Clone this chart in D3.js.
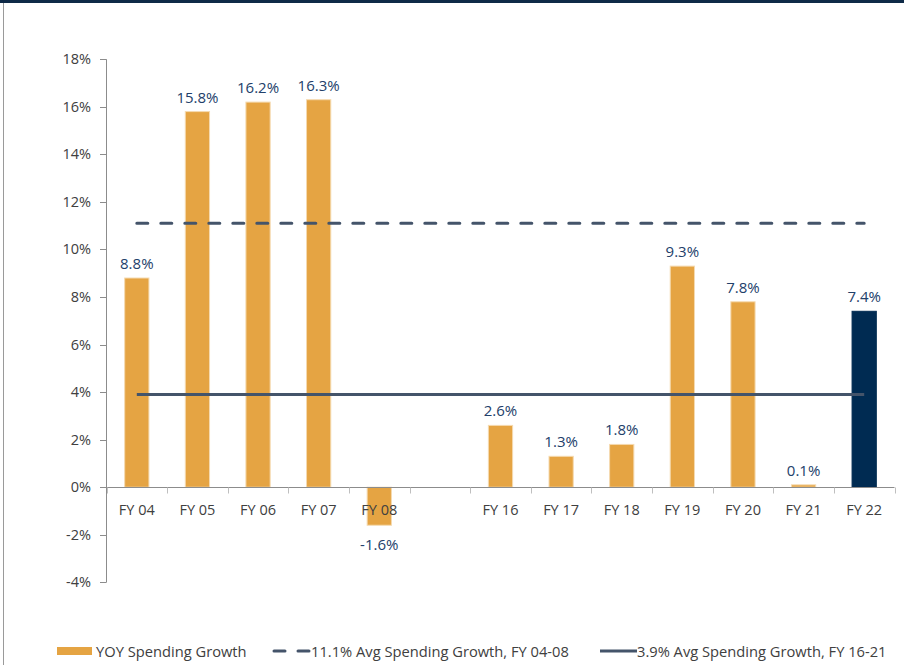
<!DOCTYPE html>
<html>
<head>
<meta charset="utf-8">
<script src="https://cdn.jsdelivr.net/npm/d3@7"></script>
<style>
  body { margin: 0; background: #fff; }
  svg { display: block; font-family: "Open Sans", "Noto Sans", sans-serif; }
</style>
</head>
<body>
<div id="chart"></div>
<script>
// categories (blank slot separates the two periods)
const categories = ['FY 04', 'FY 05', 'FY 06', 'FY 07', 'FY 08', 'gap', 'FY 16', 'FY 17', 'FY 18', 'FY 19', 'FY 20', 'FY 21', 'FY 22'];
const growth = [8.8, 15.8, 16.2, 16.3, -1.6, null, 2.6, 1.3, 1.8, 9.3, 7.8, 0.1, 7.4];
const highlight = ['FY 22'];
const yTicks = [-4, -2, 0, 2, 4, 6, 8, 10, 12, 14, 16, 18];

const avgNames = ['11.1% Avg Spending Growth, FY 04-08', '3.9% Avg Spending Growth, FY 16-21'];
const avgValues = [11.1, 3.9];
const avgSpan = ['FY 04', 'FY 22'];

const barName = 'YOY Spending Growth';

const width = 904, height = 665;
const orange = '#E5A443', navy = '#002B52', slate = '#44546A', labelBlue = '#22406A', textGray = '#404040';

const svg = d3.select('#chart').append('svg')
    .attr('width', width)
    .attr('height', height);

// frame
svg.append('rect').attr('x', 0).attr('y', 0).attr('width', width).attr('height', 3).attr('fill', '#0E2A47');
svg.append('line').attr('x1', 3.5).attr('x2', 3.5).attr('y1', 3).attr('y2', height).attr('stroke', '#9a9a9a');

const x = d3.scaleBand()
    .domain(categories)
    .range([106.5, 894.5])
    .paddingInner(0.6)
    .paddingOuter(0.3);

const y = d3.scaleLinear()
    .domain([-4, 18])
    .range([582.3, 59.3]);

// y axis
const yAxis = svg.append('g');
yAxis.append('line')
    .attr('x1', 106.5).attr('x2', 106.5)
    .attr('y1', y(18)).attr('y2', y(-4))
    .attr('stroke', '#8c8c8c');
yAxis.selectAll('.ytick')
    .data(yTicks)
    .join('line')
    .attr('x1', 100).attr('x2', 106.5)
    .attr('y1', d => Math.round(y(d)) + 0.5).attr('y2', d => Math.round(y(d)) + 0.5)
    .attr('stroke', '#8c8c8c');
yAxis.selectAll('.ylab')
    .data(yTicks)
    .join('text')
    .attr('x', 91)
    .attr('y', d => y(d) + 5)
    .attr('text-anchor', 'end')
    .attr('font-size', 14.5)
    .attr('fill', textGray)
    .text(d => d + '%');

// bars
const step = x.step();
const bars = categories.map((c, i) => ({ c, v: growth[i] })).filter(d => d.v !== null);

svg.selectAll('.bar')
    .data(bars)
    .join('rect')
    .attr('class', 'bar')
    .attr('x', d => x(d.c))
    .attr('width', x.bandwidth())
    .attr('y', d => y(Math.max(0, d.v)))
    .attr('height', d => Math.abs(y(d.v) - y(0)))
    .attr('fill', d => highlight.includes(d.c) ? navy : orange)
    .attr('stroke', d => highlight.includes(d.c) ? navy : '#F5DAB0')
    .attr('stroke-width', 1);

// x axis at 0
const xAxis = svg.append('g');
const x0 = Math.round(y(0)) + 0.5;
xAxis.append('line')
    .attr('x1', 106.5).attr('x2', 894.5)
    .attr('y1', x0).attr('y2', x0)
    .attr('stroke', '#8c8c8c');
xAxis.selectAll('.xtick')
    .data(d3.range(categories.length + 1))
    .join('line')
    .attr('x1', i => Math.round(106.5 + i * step) + 0.5)
    .attr('x2', i => Math.round(106.5 + i * step) + 0.5)
    .attr('y1', x0).attr('y2', x0 + 6)
    .attr('stroke', '#bfbfbf');
xAxis.selectAll('.xlab')
    .data(categories.filter(c => c !== 'gap'))
    .join('text')
    .attr('x', d => x(d) + x.bandwidth() / 2)
    .attr('y', 515)
    .attr('text-anchor', 'middle')
    .attr('font-size', 14.5)
    .attr('fill', textGray)
    .text(d => d);

// value labels
svg.selectAll('.vlab')
    .data(bars)
    .join('text')
    .attr('x', d => x(d.c) + x.bandwidth() / 2)
    .attr('y', d => d.v >= 0 ? y(d.v) - 9 : y(d.v) + 25)
    .attr('text-anchor', 'middle')
    .attr('font-size', 15)
    .attr('fill', labelBlue)
    .text(d => d.v.toFixed(1) + '%');

// average lines
const lx1 = x(avgSpan[0]) + x.bandwidth() / 2;
const lx2 = x(avgSpan[1]) + x.bandwidth() / 2;
avgValues.forEach((v, i) => {
    svg.append('line')
        .attr('x1', lx1).attr('x2', lx2)
        .attr('y1', y(v)).attr('y2', y(v))
        .attr('stroke', slate)
        .attr('stroke-width', 3)
        .attr('stroke-linecap', i === 0 ? 'round' : 'butt')
        .attr('stroke-dasharray', i === 0 ? '11,13' : null);
});

// legend
const legend = svg.append('g').attr('font-size', 14.7).attr('fill', textGray);
legend.append('rect')
    .attr('x', 57).attr('y', 647).attr('width', 35).attr('height', 8)
    .attr('fill', orange);
legend.append('text').attr('x', 96).attr('y', 657).text(barName);

legend.append('line')
    .attr('x1', 274).attr('x2', 309).attr('y1', 651).attr('y2', 651)
    .attr('stroke', slate).attr('stroke-width', 3)
    .attr('stroke-linecap', 'round').attr('stroke-dasharray', '11,13');
legend.append('text').attr('x', 311).attr('y', 657).text(avgNames[0]);

legend.append('line')
    .attr('x1', 600).attr('x2', 637).attr('y1', 651).attr('y2', 651)
    .attr('stroke', slate).attr('stroke-width', 3);
legend.append('text').attr('x', 637).attr('y', 657).text(avgNames[1]);
</script>
</body>
</html>
